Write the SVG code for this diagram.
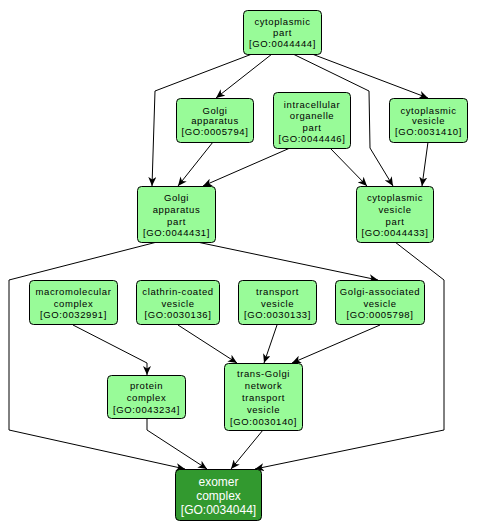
<svg xmlns="http://www.w3.org/2000/svg" width="477" height="531" viewBox="0 0 477 531">
<defs>
<marker id="arr" markerUnits="userSpaceOnUse" markerWidth="10" markerHeight="8" refX="9" refY="4" orient="auto">
<path d="M0,0 L9,4 L0,8 L2.5,4 z" fill="#000"/>
</marker>
<style>
.n rect{fill:#98fb98;stroke:#000;stroke-width:1}
.n text{font-family:"Liberation Sans",Arial,sans-serif;font-size:9.5px;letter-spacing:0.6px;fill:#000;text-anchor:middle}
.f rect{fill:#32992f;stroke:#000;stroke-width:1}
.f text{font-family:"Liberation Sans",Arial,sans-serif;font-size:12px;fill:#fff;text-anchor:middle}
.e path{fill:none;stroke:#000;stroke-width:1;marker-end:url(#arr)}
</style>
</defs>
<rect width="477" height="531" fill="#fff"/>
<g class="e">
<path d="M252,54 L155,91 L152,186"/>
<path d="M272,54 L216,98"/>
<path d="M293,54 L369,91 L370,148 L393,186"/>
<path d="M312,54 L428,98"/>
<path d="M213,142 L178,186"/>
<path d="M290,148 L203,186"/>
<path d="M330,148 L367,186"/>
<path d="M428,142 L422,186"/>
<path d="M157,242 L9,280 L9,430 L185,469"/>
<path d="M197,242 L378,280"/>
<path d="M395,242 L444,280 L444,430 L255,469"/>
<path d="M73,325 L147,363 L147,375"/>
<path d="M178,325 L237,363"/>
<path d="M277,325 L264,363"/>
<path d="M380,325 L292,363"/>
<path d="M147,418 L147,430 L207,469"/>
<path d="M263,430 L231,469"/>
</g>
<g id="GO0044444" class="n"><rect x="243.5" y="10.5" width="78" height="44" rx="4"/>
<text x="282.5" y="25">cytoplasmic</text><text x="282.5" y="36">part</text><text x="282.5" y="47">[GO:0044444]</text></g>
<g id="GO0005794" class="n"><rect x="176.5" y="98.5" width="77" height="44" rx="4"/>
<text x="215" y="113.5">Golgi</text><text x="215" y="124">apparatus</text><text x="215" y="134.5">[GO:0005794]</text></g>
<g id="GO0044446" class="n"><rect x="273.5" y="92.5" width="77" height="56" rx="4"/>
<text x="312" y="107.5">intracellular</text><text x="312" y="119">organelle</text><text x="312" y="130.5">part</text><text x="312" y="141.5">[GO:0044446]</text></g>
<g id="GO0031410" class="n"><rect x="389.5" y="98.5" width="78" height="44" rx="4"/>
<text x="428.5" y="113.5">cytoplasmic</text><text x="428.5" y="124">vesicle</text><text x="428.5" y="134.5">[GO:0031410]</text></g>
<g id="GO0044431" class="n"><rect x="137.5" y="186.5" width="78" height="56" rx="4"/>
<text x="176.5" y="201">Golgi</text><text x="176.5" y="213">apparatus</text><text x="176.5" y="224.5">part</text><text x="176.5" y="236">[GO:0044431]</text></g>
<g id="GO0044433" class="n"><rect x="356.5" y="186.5" width="77" height="56" rx="4"/>
<text x="395" y="201">cytoplasmic</text><text x="395" y="213">vesicle</text><text x="395" y="224.5">part</text><text x="395" y="236">[GO:0044433]</text></g>
<g id="GO0032991" class="n"><rect x="29.5" y="280.5" width="88" height="44" rx="4"/>
<text x="73.5" y="295">macromolecular</text><text x="73.5" y="307">complex</text><text x="73.5" y="318">[GO:0032991]</text></g>
<g id="GO0030136" class="n"><rect x="136.5" y="280.5" width="83" height="44" rx="4"/>
<text x="178" y="295">clathrin-coated</text><text x="178" y="307">vesicle</text><text x="178" y="318">[GO:0030136]</text></g>
<g id="GO0030133" class="n"><rect x="238.5" y="280.5" width="78" height="44" rx="4"/>
<text x="277.5" y="295">transport</text><text x="277.5" y="307">vesicle</text><text x="277.5" y="318">[GO:0030133]</text></g>
<g id="GO0005798" class="n"><rect x="335.5" y="280.5" width="89" height="44" rx="4"/>
<text x="380" y="295">Golgi-associated</text><text x="380" y="307">vesicle</text><text x="380" y="318">[GO:0005798]</text></g>
<g id="GO0043234" class="n"><rect x="107.5" y="375.5" width="78" height="43" rx="4"/>
<text x="146.5" y="389">protein</text><text x="146.5" y="401">complex</text><text x="146.5" y="412.5">[GO:0043234]</text></g>
<g id="GO0030140" class="n"><rect x="224.5" y="363.5" width="78" height="67" rx="4"/>
<text x="263.5" y="376.5">trans-Golgi</text><text x="263.5" y="389">network</text><text x="263.5" y="401">transport</text><text x="263.5" y="413">vesicle</text><text x="263.5" y="424.5">[GO:0030140]</text></g>
<g id="GO0034044" class="f"><rect x="175.5" y="469.5" width="86" height="51" rx="4"/>
<text x="218.5" y="485.5">exomer</text><text x="218.5" y="499.5">complex</text><text x="218.5" y="513.5">[GO:0034044]</text></g>
</svg>
